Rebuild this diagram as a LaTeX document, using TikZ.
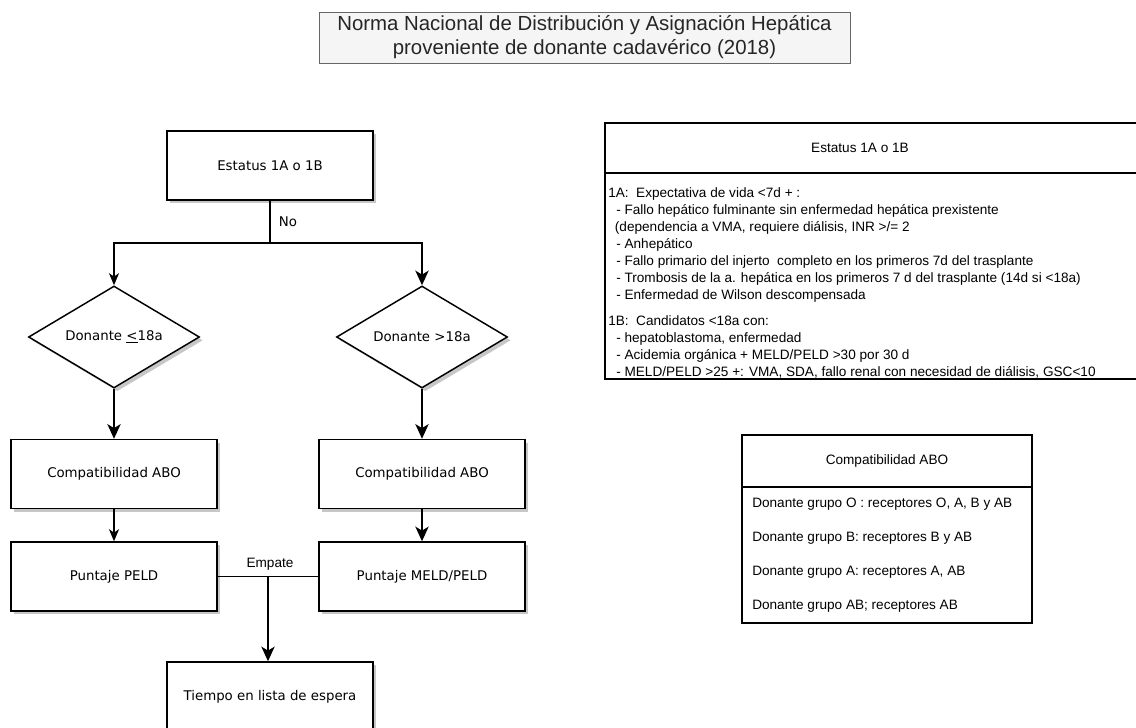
\documentclass[tikz,border=0pt]{standalone}
\usepackage{fontspec}
\setmainfont{DejaVu Sans}
\newfontfamily\arial{Liberation Sans}
\usepackage{tikz}
\usetikzlibrary{arrows.meta,shapes.geometric,shadows}

\begin{document}
\begin{tikzpicture}[x=0.75pt,y=-0.75pt]
	\tikzstyle{caja}=[draw,line width=1.1pt,fill=white,minimum width=154.5pt,minimum height=51.75pt,inner sep=0pt,font=\fontsize{10}{12}\selectfont,general shadow={fill=black!22,shadow xshift=2.5pt,shadow yshift=-2.5pt}];
	\tikzstyle{rombo}=[caja,diamond,aspect=1.68,minimum width=128.25pt,minimum height=76.5pt];
	\tikzstyle{linea}=[line width=1.1pt];
	\tikzstyle{flecha}=[linea,-{Stealth[length=11pt,width=10pt,inset=3pt]}];
	\tikzstyle{flechita}=[linea,-{Stealth[length=9pt,width=7.5pt,inset=2.5pt]}];
	\tikzstyle{tabla}=[line width=1.1pt];
	\tikzstyle{txt}=[font=\arial\fontsize{10.2}{12.75}\selectfont,inner sep=0pt,align=left];
%<--------------------------------------------------------------------------->%
	\path[use as bounding box,fill=white] (0,0) rectangle (1136,728);

	%% title
	\node[draw=black!60,fill=black!4,line width=0.75pt,minimum width=398.25pt,minimum height=38.25pt,inner sep=0pt,align=center,font=\arial\fontsize{15.3}{18}\selectfont,text=black!85] (titulo) at (584.5,37.5) {Norma Nacional de Distribución y Asignación Hepática\\proveniente de donante cadavérico (2018)};

	%% flowchart
	\node[caja]  (est) at (270,165.5) {Estatus 1A o 1B};
	\node[rombo] (d1)  at (114,337)   {Donante \underline{<}18a};
	\node[rombo] (d2)  at (422,337)   {Donante >18a};
	\node[caja]  (c1)  at (114,474)   {Compatibilidad ABO};
	\node[caja]  (c2)  at (422,474)   {Compatibilidad ABO};
	\node[caja]  (p1)  at (114,576.5) {Puntaje PELD};
	\node[caja]  (p2)  at (422,576.5) {Puntaje MELD/PELD};
	\node[caja]  (tie) at (270,696.5) {Tiempo en lista de espera};
	\coordinate (ram) at (270,243);
	\coordinate (emp) at (268,576.5);

	\draw[linea]    (est) -- (ram);
	\draw[flechita] (ram) -| (d1);
	\draw[flecha]   (ram) -| (d2);
	\draw[flecha]   (d1)  -- (c1);
	\draw[flecha]   (d2)  -- (c2);
	\draw[flechita] (c1)  -- (p1);
	\draw[flecha]   (c2)  -- (p2);
	\draw[linea]    (p1)  -- (p2);
	\draw[flecha]   (emp) -- (emp |- tie.north);
	\node[font=\fontsize{10}{12}\selectfont,inner sep=0pt] (no) at (288,222) {No};
	\node[txt] (empate) at (270,564) {Empate};

	%% table Estatus
	\draw[tabla] (605,123) rectangle (1145,379);
	\draw[tabla] (605,173) -- (1145,173);
	\node[txt] (est1) at (860,148) {Estatus 1A o 1B};
	\node[txt,anchor=north west] (t1a) at (608,187) {1A:~ Expectativa de vida <7d + :\\
		\hspace*{6pt}- Fallo hepático fulminante sin enfermedad hepática prexistente\\
		\hspace*{5pt}(dependencia a VMA, requiere diálisis, INR >/= 2\\
		\hspace*{6pt}- Anhepático\\
		\hspace*{6pt}- Fallo primario del injerto~ completo en los primeros 7d del trasplante\\
		\hspace*{6pt}- Trombosis de la a. hepática en los primeros 7 d del trasplante (14d si <18a)\\
		\hspace*{6pt}- Enfermedad de Wilson descompensada};
	\node[txt,anchor=north west] (t1b) at (608,315) {1B:~ Candidatos <18a con:\\
		\hspace*{6pt}- hepatoblastoma, enfermedad\\
		\hspace*{6pt}- Acidemia orgánica + MELD/PELD >30 por 30 d\\
		\hspace*{6pt}- MELD/PELD >25 +: VMA, SDA, fallo renal con necesidad de diálisis, GSC<10};

	%% table ABO
	\draw[tabla] (742,435) rectangle (1032,623);
	\draw[tabla] (742,487) -- (1032,487);
	\node[txt] (abo) at (887,461) {Compatibilidad ABO};
	\node[txt,anchor=west] (go)  at (752,504) {Donante grupo O : receptores O, A, B y AB};
	\node[txt,anchor=west] (gb)  at (752,538) {Donante grupo B: receptores B y AB};
	\node[txt,anchor=west] (ga)  at (752,572) {Donante grupo A: receptores A, AB};
	\node[txt,anchor=west] (gab) at (752,606) {Donante grupo AB; receptores AB};
\end{tikzpicture}
\end{document}
